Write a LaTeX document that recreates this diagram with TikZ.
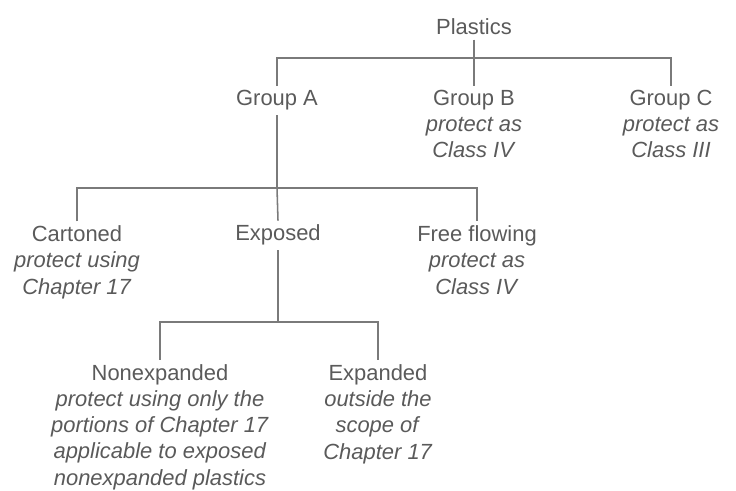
\documentclass[tikz,border=0pt]{standalone}
\usepackage{fontspec}
\setmainfont{Liberation Sans}
\usetikzlibrary{calc,positioning}

\definecolor{txtgray}{HTML}{5A5A5A}
\definecolor{linegray}{HTML}{7A7A7A}

\begin{document}
\begin{tikzpicture}[x=0.025cm,y=-0.025cm,
        every node/.style={align=center, text=txtgray, inner sep=3pt, anchor=base,
            font=\fontsize{15.6}{18.6}\selectfont},
        tree/.style={draw=linegray, line width=1.1pt}]
        \useasboundingbox (0,0) rectangle (736,491);

        % nodes are placed at the baseline of their last line
        \node (plastics) at (474,35) {Plastics};

        \node (grpA) at (277,106) {Group A};
        \node (grpB) at (474,158) {Group B\\\textit{protect as}\\\textit{Class IV}};
        \node (grpC) at (671,158) {Group C\\\textit{protect as}\\\textit{Class III}};

        \node (carton) at (77,294) {Cartoned\\\textit{protect using}\\\textit{Chapter 17}};
        \node (exposed) at (278,241) {Exposed};
        \node (free) at (477,294) {Free flowing\\\textit{protect as}\\\textit{Class IV}};

        \node (nonexp) at (160,485) {Nonexpanded\\\textit{protect using only the}\\\textit{portions of Chapter 17}\\\textit{applicable to exposed}\\\textit{nonexpanded plastics}};
        \node (exp) at (378,459) {Expanded\\\textit{outside the}\\\textit{scope of}\\\textit{Chapter 17}};

        \coordinate (jtop) at (474,58);
        \coordinate (jmid) at (277,188);
        \coordinate (jlow) at (278,322);

        \draw[tree] (plastics.south) -- (jtop);
        \draw[tree] (grpA.north) |- (jtop) -| (grpC.north);
        \draw[tree] (jtop) -- (grpB.north);

        \draw[tree] (grpA.south) -- (jmid);
        \draw[tree] (carton.north) |- (jmid) -| (free.north);
        \draw[tree] (jmid) -- (exposed.north);

        \draw[tree] (exposed.south) -- (jlow);
        \draw[tree] (nonexp.north) |- (jlow) -| (exp.north);
    \end{tikzpicture}
\end{document}
